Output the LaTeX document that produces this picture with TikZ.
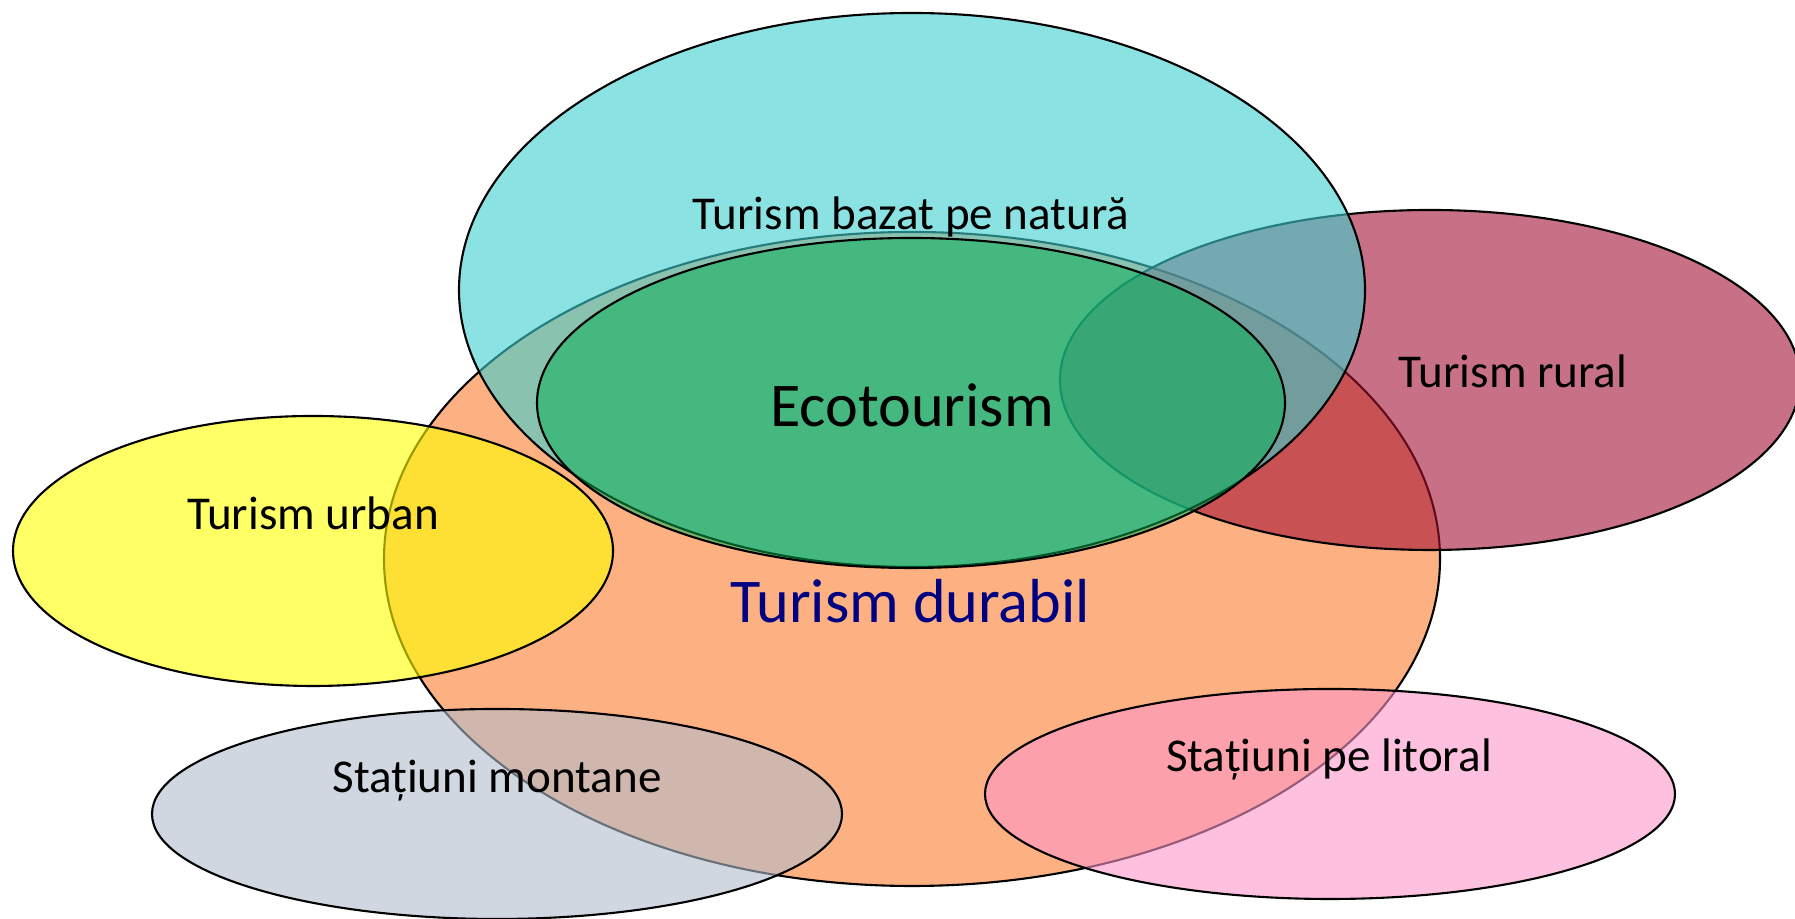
\documentclass[tikz,border=0pt]{standalone}
\usepackage{fontspec}
\setmainfont{Carlito}
\usepackage{tikz}
\definecolor{durabilorange}{RGB}{253,176,129}
\definecolor{urbanyellow}{RGB}{255,255,0}
\definecolor{montangray}{RGB}{177,188,203}
\definecolor{litoralpink}{RGB}{252,150,202}
\definecolor{ruralred}{RGB}{163,18,53}
\definecolor{naturacyan}{RGB}{60,207,207}
\definecolor{ecogreen}{RGB}{0,176,80}
\definecolor{durabilnavy}{RGB}{0,0,128}
\tikzset{
    venn/.style = {draw = black, line width = 0.6pt, fill opacity = 0.6},
    label/.style = {anchor = base, font = \fontsize{13.4}{16}\selectfont},
    biglabel/.style = {anchor = base, font = \fontsize{17.7}{21}\selectfont}
}

\begin{document}
\begin{tikzpicture}
        \useasboundingbox (0, 0) rectangle (17.95, 9.19);
        \draw [fill = durabilorange, line width = 0.6pt] (9.12, 3.60) ellipse (5.28 and 3.27);
        \draw [venn, fill = urbanyellow] (3.13, 3.68) ellipse (3.00 and 1.35);
        \draw [venn, fill = montangray] (4.97, 1.05) ellipse (3.45 and 1.05);
        \draw [venn, fill = litoralpink] (13.30, 1.25) ellipse (3.45 and 1.05);
        \draw [venn, fill = ruralred] (14.30, 5.39) ellipse (3.70 and 1.70);
        \draw [venn, fill = naturacyan] (9.12, 6.29) ellipse (4.53 and 2.77);
        \draw [venn, fill = ecogreen, fill opacity = 0.5] (9.11, 5.16) ellipse (3.74 and 1.65);
        \node (natura) [label] at (9.11, 6.89) {Turism bazat pe natură};
        \node (eco) [biglabel] at (9.12, 4.92) {Ecotourism};
        \node (rural) [label] at (15.13, 5.31) {Turism rural};
        \node (urban) [label] at (3.13, 3.89) {Turism urban};
        \node (durabil) [biglabel, text = durabilnavy] at (9.10, 2.96) {Turism durabil};
        \node (montane) [label] at (4.97, 1.26) {Stațiuni montane};
        \node (litoral) [label] at (13.29, 1.47) {Stațiuni pe litoral};
    \end{tikzpicture}
\end{document}
